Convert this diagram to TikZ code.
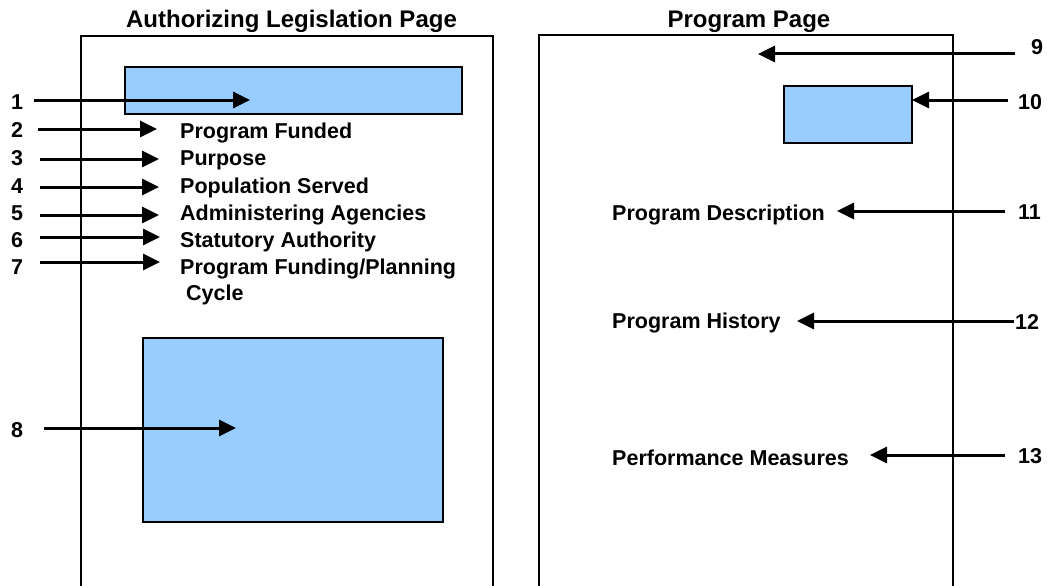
\documentclass[tikz,border=0pt]{standalone}
\usepackage{fontspec}
\setmainfont{Liberation Sans}
\usetikzlibrary{arrows.meta}
\definecolor{boxblue}{HTML}{99CCFF}
\tikzset{
  lbl/.style={font=\fontsize{21.5}{24}\selectfont\bfseries, inner sep=0pt, text height=15.5pt, text depth=0pt},
  ttl/.style={font=\fontsize{24}{28}\selectfont\bfseries, inner sep=0pt, text height=17.2pt, text depth=0pt},
  frame/.style={line width=2pt, draw=black},
  bluebox/.style={line width=2pt, draw=black, fill=boxblue},
  arr/.style={line width=3pt, -{Triangle[length=17pt,width=16pt]}},
}
\begin{document}
\begin{tikzpicture}[x=1pt,y=-1pt]
\useasboundingbox (0,0) rectangle (1047,586);
% titles
\node[ttl] (t1) at (291.5,18.5) {Authorizing Legislation Page};
\node[ttl] (t2) at (749,18.5) {Program Page};
% page frames
\draw[frame] (81,587) -- (81,36) -- (493,36) -- (493,587);
\draw[frame] (539,587) -- (539,35) -- (953,35) -- (953,587);
% blue boxes
\draw[bluebox] (125,67) rectangle (462,114);
\draw[bluebox] (143,338) rectangle (443,522);
\draw[bluebox] (784,86) rectangle (912,143);
% left texts
\node[lbl,anchor=west] (l2) at (180,131) {Program Funded};
\node[lbl,anchor=west] (l3) at (180,158) {Purpose};
\node[lbl,anchor=west] (l4) at (180,186) {Population Served};
\node[lbl,anchor=west] (l5) at (180,213) {Administering Agencies};
\node[lbl,anchor=west] (l6) at (180,240) {Statutory Authority};
\node[lbl,anchor=west] (l7) at (180,267) {Program Funding/Planning};
\node[lbl,anchor=west] (l7b) at (186,293) {Cycle};
% left numbers
\node[lbl] (n1) at (17,102) {1};
\node[lbl] (n2) at (17,130) {2};
\node[lbl] (n3) at (17,158) {3};
\node[lbl] (n4) at (17,186) {4};
\node[lbl] (n5) at (17,213) {5};
\node[lbl] (n6) at (17,240) {6};
\node[lbl] (n7) at (17,267) {7};
\node[lbl] (n8) at (17,430) {8};
% left arrows
\coordinate (s1) at (34,100);  \coordinate (e1) at (250,100);
\coordinate (s2) at (38,129);  \coordinate (e2) at (157,129);
\coordinate (s3) at (40,159);  \coordinate (e3) at (159,159);
\coordinate (s4) at (40,187);  \coordinate (e4) at (159,187);
\coordinate (s5) at (40,215);  \coordinate (e5) at (159,215);
\coordinate (s6) at (40,237);  \coordinate (e6) at (160,237);
\coordinate (s7) at (40,262);  \coordinate (e7) at (160,262);
\coordinate (s8) at (44,428);  \coordinate (e8) at (236,428);
\foreach \i in {1,...,8} { \draw[arr] (s\i) -- (e\i); }
% right texts
\node[lbl,anchor=west] (r11) at (612,213) {Program Description};
\node[lbl,anchor=west] (r12) at (612,321) {Program History};
\node[lbl,anchor=west] (r13) at (612,458) {Performance Measures};
% right numbers
\node[lbl,anchor=west] (n9) at (1031,47) {9};
\node[lbl,anchor=west] (n10) at (1018,102) {10};
\node[lbl,anchor=west] (n11) at (1018,212) {11};
\node[lbl,anchor=west] (n12) at (1015,322) {12};
\node[lbl,anchor=west] (n13) at (1018,456) {13};
% right arrows
\coordinate (s9) at (1015,54);   \coordinate (e9) at (758,54);
\coordinate (s10) at (1008,100); \coordinate (e10) at (912,100);
\coordinate (s11) at (1005,211); \coordinate (e11) at (837,211);
\coordinate (s12) at (1014,321); \coordinate (e12) at (797,321);
\coordinate (s13) at (1005,455); \coordinate (e13) at (870,455);
\foreach \i in {9,...,13} { \draw[arr] (s\i) -- (e\i); }
\end{tikzpicture}
\end{document}
